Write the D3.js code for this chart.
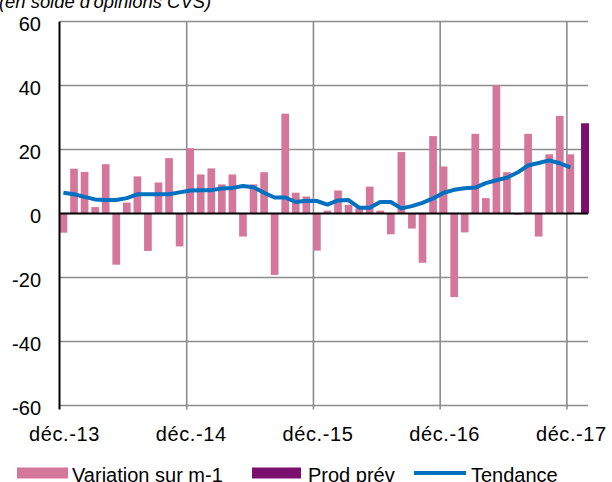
<!DOCTYPE html>
<html>
<head>
<meta charset="utf-8">
<script src="https://cdn.jsdelivr.net/npm/d3@7"></script>
<style>
  html, body { margin: 0; padding: 0; background: #fff; }
  svg { display: block; }
  text { font-family: "Liberation Sans", Arial, sans-serif; fill: #000; }
</style>
</head>
<body>
<svg id="chart" width="612" height="482"></svg>
<script>
// ---- data ----
const months = ["déc.-13","janv.-14","févr.-14","mars-14","avr.-14","mai-14","juin-14","juil.-14","août-14","sept.-14","oct.-14","nov.-14",
  "déc.-14","janv.-15","févr.-15","mars-15","avr.-15","mai-15","juin-15","juil.-15","août-15","sept.-15","oct.-15","nov.-15",
  "déc.-15","janv.-16","févr.-16","mars-16","avr.-16","mai-16","juin-16","juil.-16","août-16","sept.-16","oct.-16","nov.-16",
  "déc.-16","janv.-17","févr.-17","mars-17","avr.-17","mai-17","juin-17","juil.-17","août-17","sept.-17","oct.-17","nov.-17",
  "déc.-17","janv.-18"];
const variation = [-6, 14, 13, 2, 15.4, -16, 3.4, 11.6, -11.7, 9.7, 17.3, -10.3,
  20.4, 12.2, 14.1, 9.1, 12.2, -7.2, 9.1, 12.9, -19.2, 31.2, 6.5, 5.3,
  -11.6, 0.9, 7.2, 2.7, 1.6, 8.4, 0.9, -6.5, 19.2, -4.7, -15.4, 24.2,
  14.7, -26.1, -5.9, 24.9, 4.8, 40.0, 12.9, -0.4, 24.9, -7.2, 18.5, 30.5,
  18.5, null];
const prodPrev = [null,null,null,null,null,null,null,null,null,null,null,null,
  null,null,null,null,null,null,null,null,null,null,null,null,
  null,null,null,null,null,null,null,null,null,null,null,null,
  null,null,null,null,null,null,null,null,null,null,null,null,
  null, 28.2];
const tendance = [6.5, 6.0, 5.2, 4.4, 4.2, 4.2, 4.8, 6.0, 6.0, 6.0, 6.0, 6.6,
  7.2, 7.3, 7.3, 7.8, 8.0, 8.6, 8.2, 6.5, 5.0, 5.0, 3.6, 4.0,
  3.9, 2.8, 4.1, 4.2, 1.8, 1.8, 3.6, 3.6, 1.6, 2.3, 3.3, 4.7,
  6.5, 7.4, 7.9, 8.1, 9.5, 10.4, 11.2, 12.8, 15.0, 15.8, 16.6, 15.7,
  14.4, null];
const yTicks = [60, 40, 20, 0, -20, -40, -60];
const xTickLabels = ["déc.-13", "déc.-14", "déc.-15", "déc.-16", "déc.-17"];
const legendLabels = ["Variation sur m-1", "Prod prév", "Tendance"];
const title = "(en solde d'opinions CVS)";

// ---- layout ----
const svg = d3.select("#chart");
const L = 60, R = 588, T = 21.5, B = 405.5;
const pink = "#d4779b", purple = "#7b0f6e", blue = "#0070c0", grid = "#8c8c8c";

const x = d3.scaleBand().domain(months).range([L, R]).padding(0);
const y = d3.scaleLinear().domain([-60, 60]).range([B, T]);
const step = x.step();

// title
svg.append("text").attr("x", -1).attr("y", 8)
  .attr("font-size", 18.4).attr("font-style", "italic").text(title);

// horizontal gridlines
svg.append("g").selectAll("line").data(yTicks.filter(v => v !== 0)).join("line")
  .attr("x1", L).attr("x2", R).attr("y1", d => y(d)).attr("y2", d => y(d))
  .attr("stroke", grid).attr("stroke-width", 1.6);

// vertical gridlines at december ticks
svg.append("g").selectAll("line").data(xTickLabels.slice(1)).join("line")
  .attr("x1", d => x(d)).attr("x2", d => x(d)).attr("y1", T).attr("y2", B + 4)
  .attr("stroke", grid).attr("stroke-width", 1.6);

// bars: variation
svg.append("g").selectAll("rect").data(months.map((m, i) => ({m, v: variation[i]})).filter(d => d.v != null))
  .join("rect")
  .attr("x", d => x(d.m) - 0.4).attr("width", 7.7)
  .attr("y", d => y(Math.max(0, d.v))).attr("height", d => Math.abs(y(d.v) - y(0)))
  .attr("fill", pink);

// bars: prod prév
svg.append("g").selectAll("rect").data(months.map((m, i) => ({m, v: prodPrev[i]})).filter(d => d.v != null))
  .join("rect")
  .attr("x", d => x(d.m) + 3.6).attr("width", 8)
  .attr("y", d => y(Math.max(0, d.v))).attr("height", d => Math.abs(y(d.v) - y(0)))
  .attr("fill", purple);

// zero line
svg.append("line").attr("x1", L).attr("x2", R).attr("y1", y(0)).attr("y2", y(0))
  .attr("stroke", "#000").attr("stroke-width", 2);

// left axis line
svg.append("line").attr("x1", L - 0.5).attr("x2", L - 0.5).attr("y1", T).attr("y2", B + 4)
  .attr("stroke", "#000").attr("stroke-width", 2);

// trend line
const line = d3.line()
  .defined(d => d.v != null)
  .x(d => x(d.m) + 3.4).y(d => y(d.v))
  .curve(d3.curveLinear);
svg.append("path").datum(months.map((m, i) => ({m, v: tendance[i]})))
  .attr("d", line).attr("fill", "none").attr("stroke", blue)
  .attr("stroke-width", 4).attr("stroke-linejoin", "round");

// y tick labels
svg.append("g").selectAll("text").data(yTicks).join("text")
  .attr("x", 41).attr("y", d => y(d) + 2).attr("dy", "0.35em")
  .attr("text-anchor", "end").attr("font-size", 20).text(d => d);

// x tick labels
svg.append("g").selectAll("text").data(xTickLabels).join("text")
  .attr("x", d => x(d) + 4.5).attr("y", 440.5)
  .attr("text-anchor", "middle").attr("font-size", 20).attr("letter-spacing", 0.6).text(d => d);

// legend
const lg = svg.append("g");
lg.append("rect").attr("x", 17).attr("y", 467.5).attr("width", 51).attr("height", 11).attr("fill", pink);
lg.append("text").attr("x", 72).attr("y", 481.5).attr("font-size", 20).text(legendLabels[0]);
lg.append("rect").attr("x", 252).attr("y", 467.5).attr("width", 49).attr("height", 11).attr("fill", purple);
lg.append("text").attr("x", 308).attr("y", 481.5).attr("font-size", 20).text(legendLabels[1]);
lg.append("line").attr("x1", 414).attr("x2", 466).attr("y1", 473).attr("y2", 473)
  .attr("stroke", blue).attr("stroke-width", 4);
lg.append("text").attr("x", 471).attr("y", 481.5).attr("font-size", 20).text(legendLabels[2]);
</script>
</body>
</html>
